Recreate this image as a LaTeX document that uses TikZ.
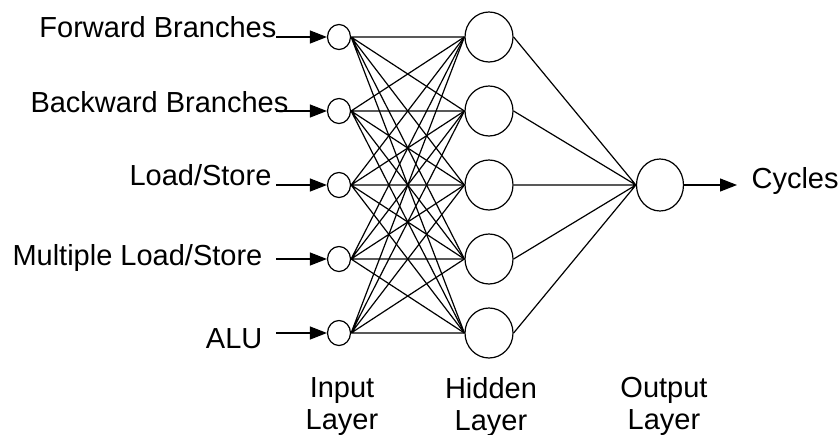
\documentclass[tikz,border=0pt]{standalone}
\usepackage{fontspec}
\setmainfont{Liberation Sans}
\usetikzlibrary{shapes.geometric,arrows.meta}

\tikzset{
  small neuron/.style={draw,ellipse,inner sep=0pt,minimum width=11.5pt,minimum height=12.5pt},
  big neuron/.style={draw,ellipse,inner sep=0pt,minimum width=24pt,minimum height=25pt},
  feed/.style={-{Triangle[length=8.5pt,width=6.5pt]}},
  label text/.style={inner sep=0pt,font=\fontsize{14.5}{16}\selectfont},
}

\begin{document}
\begin{tikzpicture}[x=0.5pt,y=-0.5pt,line width=0.6pt]
\useasboundingbox (0,0) rectangle (840,434);

% Input layer
\node[small neuron] (in1) at (339,37) {};
\node[small neuron] (in2) at (339,111) {};
\node[small neuron] (in3) at (339,185) {};
\node[small neuron] (in4) at (339,259) {};
\node[small neuron] (in5) at (339,333) {};

% Hidden layer
\node[big neuron] (hid1) at (489,37) {};
\node[big neuron] (hid2) at (489,111) {};
\node[big neuron] (hid3) at (489,185) {};
\node[big neuron] (hid4) at (489,259) {};
\node[big neuron] (hid5) at (489,333) {};

% Output layer
\node[big neuron,minimum width=23.5pt,minimum height=26pt] (out) at (660,185) {};

% Inputs
\node[label text,anchor=base east] (fwd) at (277,37) {Forward Branches};
\node[label text,anchor=base east] (bwd) at (289,112) {Backward Branches};
\node[label text,anchor=base east] (ldst) at (272,185) {Load/Store};
\node[label text,anchor=base east] (mldst) at (263,265) {Multiple Load/Store};
\node[label text,anchor=base east] (alu) at (263,348) {ALU};

\coordinate (s1) at (276,37);
\coordinate (s2) at (276,111);
\coordinate (s3) at (276,185);
\coordinate (s4) at (276,259);
\coordinate (s5) at (276,333);

\draw[feed] (s1) -- (in1);
\draw[feed] (s2) -- (in2);
\draw[feed] (s3) -- (in3);
\draw[feed] (s4) -- (in4);
\draw[feed] (s5) -- (in5);

% Weights input -> hidden
\draw (in1.east) -- (hid1.west) (in1.east) -- (hid2.west) (in1.east) -- (hid3.west) (in1.east) -- (hid4.west) (in1.east) -- (hid5.west);
\draw (in2.east) -- (hid1.west) (in2.east) -- (hid2.west) (in2.east) -- (hid3.west) (in2.east) -- (hid4.west) (in2.east) -- (hid5.west);
\draw (in3.east) -- (hid1.west) (in3.east) -- (hid2.west) (in3.east) -- (hid3.west) (in3.east) -- (hid4.west) (in3.east) -- (hid5.west);
\draw (in4.east) -- (hid1.west) (in4.east) -- (hid2.west) (in4.east) -- (hid3.west) (in4.east) -- (hid4.west) (in4.east) -- (hid5.west);
\draw (in5.east) -- (hid1.west) (in5.east) -- (hid2.west) (in5.east) -- (hid3.west) (in5.east) -- (hid4.west) (in5.east) -- (hid5.west);

% Weights hidden -> output
\draw (hid1.east) -- (out.west) (hid2.east) -- (out.west) (hid3.east) -- (out.west) (hid4.east) -- (out.west) (hid5.east) -- (out.west);

% Output
\coordinate (c) at (737,185);
\draw[feed] (out) -- (c);
\node[label text,anchor=base west] (cyc) at (751,188) {Cycles};

% Layer names
\node[label text,align=center,anchor=north] (inlab) at (342,377) {Input\\Layer};
\node[label text,align=center,anchor=north] (hidlab) at (491,377) {Hidden\\Layer};
\node[label text,align=center,anchor=north] (outlab) at (664,377) {Output\\Layer};

\end{tikzpicture}
\end{document}
